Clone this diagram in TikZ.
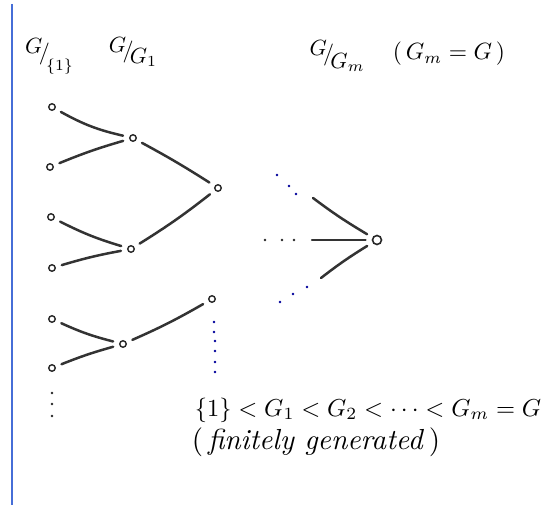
\documentclass[tikz,border=0pt]{standalone}
\usepackage{amsmath}
\usepackage{graphicx}
\begin{document}
\begin{tikzpicture}[x=1pt,y=-1pt,
  ink/.style={draw=black!80, line width=2.5pt, line cap=round},
  vtx/.style={circle, draw=black!85, line width=1.4pt, inner sep=0pt, minimum size=6.5pt, outer sep=7pt},
  rootvtx/.style={circle, draw=black!85, line width=1.6pt, inner sep=0pt, minimum size=9pt, outer sep=7pt},
  bdot/.style={fill=blue!60!black},
  kdot/.style={fill=black!85},
  lab/.style={inner sep=0pt}
]
\useasboundingbox (0,0) rectangle (552,505);
% margin line
\draw[color={rgb,255:red,70;green,110;blue,215}, line width=1.8pt] (12,4) -- (12,505);

% labels
\node[lab] (q1) at (49,56) {\scalebox{2.2}{$\raisebox{.7ex}{$G$}\!/\!\raisebox{-1.1ex}{$\scriptstyle\{1\}$}$}};
\node[lab] (q2) at (133,52) {\scalebox{2.2}{$\raisebox{.5ex}{$G$}\!/\!\raisebox{-.6ex}{$G_1$}$}};
\node[lab] (q3) at (337,56) {\scalebox{2.2}{$\raisebox{.5ex}{$G$}\!/\!\raisebox{-.8ex}{$G_m$}$}};
\node[lab] (q4) at (449,54) {\scalebox{2.35}{$(\,G_m = G\,)$}};

% leaves
\node[vtx] (l1) at (52,107) {};
\node[vtx] (l2) at (50,167) {};
\node[vtx] (l3) at (51,217) {};
\node[vtx] (l4) at (52,268) {};
\node[vtx] (l5) at (52,319) {};
\node[vtx] (l6) at (52,368) {};
% level 1
\node[vtx] (a) at (133,138) {};
\node[vtx] (b) at (131,249) {};
\node[vtx] (d) at (123,344) {};
% level 2
\node[vtx] (c) at (218,188) {};
\node[vtx] (e) at (212,299) {};
% root
\node[rootvtx] (r) at (377,240) {};

% edges
\draw[ink] (l1) to[bend right=8] (a);
\draw[ink] (l2) to[bend left=3] (a);
\draw[ink] (l3) to[bend right=5] (b);
\draw[ink] (l4) to[bend left=3] (b);
\draw[ink] (l5) to[bend right=5] (d);
\draw[ink] (l6) to[bend left=3] (d);
\draw[ink] (a) to[bend left=2] (c);
\draw[ink] (b) to[bend right=3] (c);
\draw[ink] (d) to[bend right=3] (e);

% root edges
\coordinate (r1) at (313,198);
\coordinate (r2) at (312,240);
\coordinate (r3) at (321,278);
\draw[ink] (r1) to[bend right=3] (r);
\draw[ink] (r2) -- (r);
\draw[ink] (r3) to[bend left=3] (r);

% dots
\foreach \p in {(277,175),(289,186),(296,194),(307,287),(293,294),(280,302),
                (214,322),(214,332),(215,341),(215,351),(215,362),(215,372)}
  \fill[bdot] \p circle (1.4pt);
\foreach \p in {(265,240),(282,240),(294,240),(52,393),(52,404),(52,416)}
  \fill[kdot] \p circle (1.4pt);

% chain text
\node[lab] (chain) at (368,410) {\scalebox{2.45}{$\{1\} < G_1 < G_2 < \dots < G_m = G$}};
\node[lab] (fg) at (316,442) {\scalebox{2.9}{(\,\textit{finitely generated}\,)}};
\end{tikzpicture}
\end{document}
